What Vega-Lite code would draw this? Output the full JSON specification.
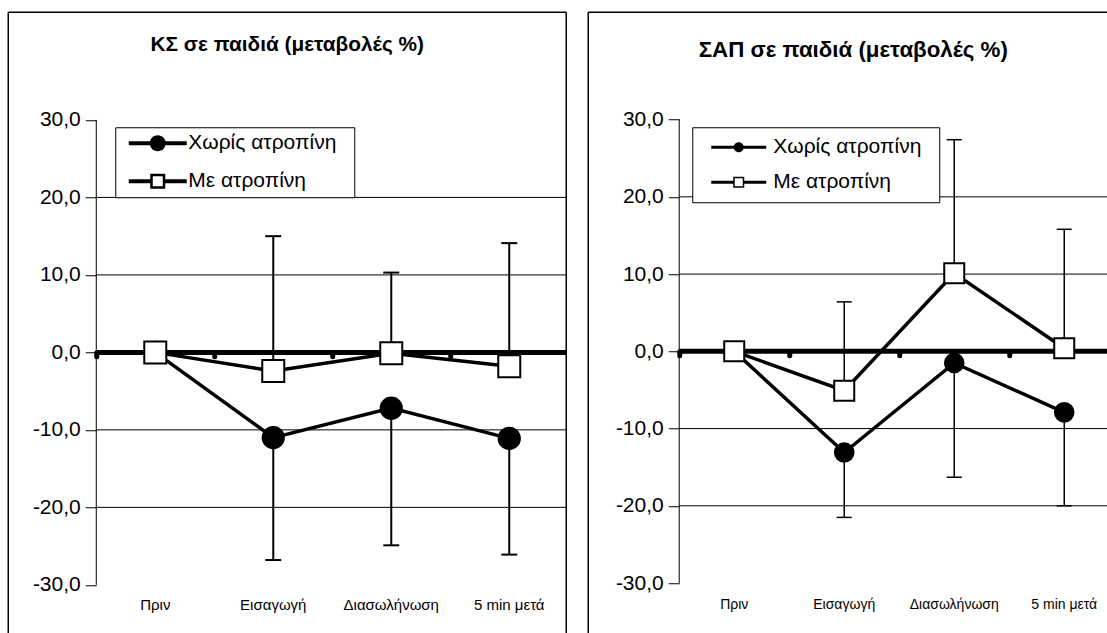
{
  "$schema": "https://vega.github.io/schema/vega-lite/v6.json",
  "background": "white",
  "padding": {"left": 7.25, "top": 11.25, "right": 0, "bottom": 0},
  "bounds": "flush",
  "spacing": 22,
  "config": {"view": {"stroke": null}, "font": "Liberation Sans"},
  "datasets": {
    "ks": [
      {"cat": "Πριν", "idx": 1, "series": "Χωρίς ατροπίνη", "value": 0, "err": null},
      {"cat": "Εισαγωγή", "idx": 2, "series": "Χωρίς ατροπίνη", "value": -11.0, "err": -26.8},
      {"cat": "Διασωλήνωση", "idx": 3, "series": "Χωρίς ατροπίνη", "value": -7.2, "err": -24.9},
      {"cat": "5 min μετά", "idx": 4, "series": "Χωρίς ατροπίνη", "value": -11.1, "err": -26.1},
      {"cat": "Πριν", "idx": 1, "series": "Με ατροπίνη", "value": 0, "err": null},
      {"cat": "Εισαγωγή", "idx": 2, "series": "Με ατροπίνη", "value": -2.4, "err": 15.0},
      {"cat": "Διασωλήνωση", "idx": 3, "series": "Με ατροπίνη", "value": -0.1, "err": 10.3},
      {"cat": "5 min μετά", "idx": 4, "series": "Με ατροπίνη", "value": -1.8, "err": 14.1}
    ],
    "sap": [
      {"cat": "Πριν", "idx": 1, "series": "Χωρίς ατροπίνη", "value": 0, "err": null},
      {"cat": "Εισαγωγή", "idx": 2, "series": "Χωρίς ατροπίνη", "value": -13.1, "err": -21.5},
      {"cat": "Διασωλήνωση", "idx": 3, "series": "Χωρίς ατροπίνη", "value": -1.5, "err": -16.3},
      {"cat": "5 min μετά", "idx": 4, "series": "Χωρίς ατροπίνη", "value": -7.9, "err": -20.0},
      {"cat": "Πριν", "idx": 1, "series": "Με ατροπίνη", "value": 0, "err": null},
      {"cat": "Εισαγωγή", "idx": 2, "series": "Με ατροπίνη", "value": -5.1, "err": 6.4},
      {"cat": "Διασωλήνωση", "idx": 3, "series": "Με ατροπίνη", "value": 10.1, "err": 27.4},
      {"cat": "5 min μετά", "idx": 4, "series": "Με ατροπίνη", "value": 0.4, "err": 15.8}
    ],
    "grid": [{"g": -20}, {"g": -10}, {"g": 10}, {"g": 20}],
    "one": [{}]
  },
  "resolve": {
    "scale": {"x": "independent", "y": "independent", "shape": "independent", "fill": "independent"},
    "legend": {"shape": "independent", "fill": "independent"}
  },
  "hconcat": [
    {
      "width": 558,
      "height": 621,
      "title": {"text": "ΚΣ σε παιδιά (μεταβολές %)", "font": "Liberation Sans", "fontSize": 20.8, "fontWeight": "bold", "color": "black", "anchor": "middle", "frame": "group", "offset": -44},
      "layer": [
        {
          "data": {"name": "one"},
          "mark": {"type": "rule", "color": "black", "strokeWidth": 1.5},
          "encoding": {"x": {"datum": -0.246}, "y": {"datum": -36.25}, "y2": {"datum": 43.9}}
        },
        {
          "data": {"name": "one"},
          "mark": {"type": "rule", "color": "black", "strokeWidth": 1.5},
          "encoding": {"x": {"datum": 4.483}, "y": {"datum": -36.25}, "y2": {"datum": 43.9}}
        },
        {
          "data": {"name": "one"},
          "mark": {"type": "rule", "color": "black", "strokeWidth": 1.5},
          "encoding": {"x": {"datum": -0.246}, "x2": {"datum": 4.483}, "y": {"datum": 43.9}}
        },
        {
          "data": {"name": "grid"},
          "mark": {"type": "rule", "color": "black", "strokeWidth": 1},
          "encoding": {"x": {"datum": 0.5}, "x2": {"datum": 4.483}, "y": {"field": "g", "type": "quantitative", "title": null}}
        },
        {
          "data": {"name": "one"},
          "mark": {"type": "rule", "color": "black", "strokeWidth": 1},
          "encoding": {"x": {"datum": 0.5}, "y": {"datum": -30}, "y2": {"datum": 30}}
        },
        {
          "data": {"name": "one"},
          "mark": {"type": "rule", "color": "black", "strokeWidth": 5},
          "encoding": {"x": {"datum": 0.5}, "x2": {"datum": 4.483}, "y": {"datum": 0}}
        },
        {
          "data": {"name": "ks"},
          "transform": [{"filter": "datum.err != null"}],
          "mark": {"type": "rule", "color": "black", "strokeWidth": 2},
          "encoding": {
            "x": {"field": "idx", "type": "quantitative", "title": null},
            "y": {"field": "value", "type": "quantitative", "title": null},
            "y2": {"field": "err"}
          }
        },
        {
          "data": {"name": "ks"},
          "transform": [{"filter": "datum.err != null"}],
          "mark": {"type": "tick", "orient": "horizontal", "color": "black", "size": 16, "thickness": 2, "opacity": 1},
          "encoding": {
            "x": {"field": "idx", "type": "quantitative", "title": null},
            "y": {"field": "err", "type": "quantitative", "title": null}
          }
        },
        {
          "data": {"name": "ks"},
          "transform": [{"filter": "datum.series == 'Χωρίς ατροπίνη'"}],
          "mark": {"type": "text", "font": "Liberation Sans", "fontSize": 15, "color": "black", "baseline": "middle", "align": "center"},
          "encoding": {
            "x": {"field": "idx", "type": "quantitative", "title": null},
            "y": {"datum": -32.65},
            "text": {"field": "cat"}
          }
        },
        {
          "data": {"name": "ks"},
          "mark": {"type": "line", "color": "black", "strokeWidth": 3.5},
          "encoding": {
            "x": {"field": "idx", "type": "quantitative", "title": null,
              "scale": {"domain": [-0.246, 4.483], "nice": false, "zero": false},
              "axis": {"orient": "bottom", "offset": -280.9, "domain": false, "labels": false, "grid": false, "ticks": true, "tickSize": 4, "tickWidth": 5, "tickColor": "black", "tickCap": "round", "values": [0.5, 1.5, 2.5, 3.5], "title": null}},
            "y": {"field": "value", "type": "quantitative", "title": null,
              "scale": {"domain": [-36.25, 43.9], "nice": false, "zero": false},
              "axis": {"orient": "left", "offset": -88, "domain": false, "grid": false, "values": [-30, -20, -10, 0, 10, 20, 30], "tickSize": 11, "tickColor": "black", "tickWidth": 1, "labelPadding": 5, "labelFont": "Liberation Sans", "labelFontSize": 21, "labelColor": "black", "labelExpr": "replace(replace(format(datum.value, '.1f'), '.', ','), '−', '-')", "title": null}},
            "detail": {"field": "series"}
          }
        },
        {
          "data": {"name": "ks"},
          "mark": {"type": "point", "filled": true, "stroke": "black", "strokeWidth": 2, "opacity": 1},
          "encoding": {
            "x": {"field": "idx", "type": "quantitative", "title": null},
            "y": {"field": "value", "type": "quantitative", "title": null},
            "shape": {"condition": {"test": "datum.series == 'Χωρίς ατροπίνη'", "value": "circle"}, "value": "square"},
            "fill": {"condition": {"test": "datum.series == 'Χωρίς ατροπίνη'", "value": "black"}, "value": "white"},
            "size": {"condition": {"test": "datum.series == 'Χωρίς ατροπίνη'", "value": 452}, "value": 484}
          }
        },
        {
          "data": {"name": "ks"},
          "transform": [{"filter": "false"}],
          "mark": {"type": "point", "filled": true, "opacity": 1},
          "encoding": {
            "x": {"field": "idx", "type": "quantitative", "title": null},
            "y": {"field": "value", "type": "quantitative", "title": null},
            "shape": {"field": "series", "type": "nominal",
              "scale": {"domain": ["Χωρίς ατροπίνη", "Με ατροπίνη"], "range": [
                "M-1,-0.069L1,-0.069L1,0.069L-1,0.069ZM0.276,0C0.276,0.1524,0.1524,0.276,0,0.276C-0.1524,0.276,-0.276,0.1524,-0.276,0C-0.276,-0.1524,-0.1524,-0.276,0,-0.276C0.1524,-0.276,0.276,-0.1524,0.276,0Z",
                "M-1,-0.069L-0.259,-0.069L-0.259,0.069L-1,0.069ZM0.259,-0.069L1,-0.069L1,0.069L0.259,0.069ZM-0.259,-0.259L0.259,-0.259L0.259,0.259L-0.259,0.259ZM-0.172,-0.172L-0.172,0.172L0.172,0.172L0.172,-0.172Z"]},
              "legend": {"orient": "none", "legendX": 107, "legendY": 115, "title": null, "padding": 6, "strokeColor": "black", "fillColor": "white",
                "labelFont": "Liberation Sans", "labelFontSize": 21, "labelColor": "black", "labelExpr": "datum.label + '\u00a0\u00a0\u200b'",
                "symbolSize": 3364, "symbolStrokeWidth": 3.5, "symbolStrokeColor": "transparent", "symbolOffset": 5.5, "labelOffset": -0.5, "clipHeight": 20, "rowPadding": 17,
                "encode": {"symbols": {"stroke": {"value": "transparent"}, "opacity": {"value": 1}}}}},
            "fill": {"field": "series", "type": "nominal",
              "scale": {"domain": ["Χωρίς ατροπίνη", "Με ατροπίνη"], "range": ["black", "black"]},
              "legend": {"orient": "none", "legendX": 107, "legendY": 115, "title": null, "padding": 6, "strokeColor": "black", "fillColor": "white",
                "labelFont": "Liberation Sans", "labelFontSize": 21, "labelColor": "black", "labelExpr": "datum.label + '\u00a0\u00a0\u200b'",
                "symbolSize": 3364, "symbolStrokeWidth": 3.5, "symbolStrokeColor": "transparent", "symbolOffset": 5.5, "labelOffset": -0.5, "clipHeight": 20, "rowPadding": 17,
                "encode": {"symbols": {"stroke": {"value": "transparent"}, "opacity": {"value": 1}}}}}
          }
        }
      ]
    },
    {
      "width": 519,
      "height": 621,
      "title": {"text": "ΣΑΠ σε παιδιά (μεταβολές %)", "font": "Liberation Sans", "fontSize": 22.3, "fontWeight": "bold", "color": "black", "anchor": "middle", "frame": "group", "dx": 5.5, "offset": -50},
      "layer": [
        {
          "data": {"name": "one"},
          "mark": {"type": "rule", "color": "black", "strokeWidth": 1.5},
          "encoding": {"x": {"datum": -0.327}, "y": {"datum": -36.5}, "y2": {"datum": 43.9}}
        },
        {
          "data": {"name": "one"},
          "mark": {"type": "rule", "color": "black", "strokeWidth": 1.5},
          "encoding": {"x": {"datum": -0.327}, "x2": {"datum": 4.391}, "y": {"datum": 43.9}}
        },
        {
          "data": {"name": "grid"},
          "mark": {"type": "rule", "color": "black", "strokeWidth": 1},
          "encoding": {"x": {"datum": 0.5}, "x2": {"datum": 4.391}, "y": {"field": "g", "type": "quantitative", "title": null}}
        },
        {
          "data": {"name": "one"},
          "mark": {"type": "rule", "color": "black", "strokeWidth": 1},
          "encoding": {"x": {"datum": 0.5}, "y": {"datum": -30}, "y2": {"datum": 30}}
        },
        {
          "data": {"name": "one"},
          "mark": {"type": "rule", "color": "black", "strokeWidth": 5},
          "encoding": {"x": {"datum": 0.5}, "x2": {"datum": 4.391}, "y": {"datum": 0}}
        },
        {
          "data": {"name": "sap"},
          "transform": [{"filter": "datum.err != null"}],
          "mark": {"type": "rule", "color": "black", "strokeWidth": 1.5},
          "encoding": {
            "x": {"field": "idx", "type": "quantitative", "title": null},
            "y": {"field": "value", "type": "quantitative", "title": null},
            "y2": {"field": "err"}
          }
        },
        {
          "data": {"name": "sap"},
          "transform": [{"filter": "datum.err != null"}],
          "mark": {"type": "tick", "orient": "horizontal", "color": "black", "size": 15, "thickness": 1.5, "opacity": 1},
          "encoding": {
            "x": {"field": "idx", "type": "quantitative", "title": null},
            "y": {"field": "err", "type": "quantitative", "title": null}
          }
        },
        {
          "data": {"name": "sap"},
          "transform": [{"filter": "datum.series == 'Χωρίς ατροπίνη'"}],
          "mark": {"type": "text", "font": "Liberation Sans", "fontSize": 14, "color": "black", "baseline": "middle", "align": "center"},
          "encoding": {
            "x": {"field": "idx", "type": "quantitative", "title": null},
            "y": {"datum": -32.9},
            "text": {"field": "cat"}
          }
        },
        {
          "data": {"name": "sap"},
          "mark": {"type": "line", "color": "black", "strokeWidth": 3.5},
          "encoding": {
            "x": {"field": "idx", "type": "quantitative", "title": null,
              "scale": {"domain": [-0.327, 4.391], "nice": false, "zero": false},
              "axis": {"orient": "bottom", "offset": -281.9, "domain": false, "labels": false, "grid": false, "ticks": true, "tickSize": 4, "tickWidth": 5, "tickColor": "black", "tickCap": "round", "values": [0.5, 1.5, 2.5, 3.5], "title": null}},
            "y": {"field": "value", "type": "quantitative", "title": null,
              "scale": {"domain": [-36.5, 43.9], "nice": false, "zero": false},
              "axis": {"orient": "left", "offset": -91, "domain": false, "grid": false, "values": [-30, -20, -10, 0, 10, 20, 30], "tickSize": 11, "tickColor": "black", "tickWidth": 1, "labelPadding": 5, "labelFont": "Liberation Sans", "labelFontSize": 21, "labelColor": "black", "labelExpr": "replace(replace(format(datum.value, '.1f'), '.', ','), '−', '-')", "title": null}},
            "detail": {"field": "series"}
          }
        },
        {
          "data": {"name": "sap"},
          "mark": {"type": "point", "filled": true, "stroke": "black", "strokeWidth": 2, "opacity": 1},
          "encoding": {
            "x": {"field": "idx", "type": "quantitative", "title": null},
            "y": {"field": "value", "type": "quantitative", "title": null},
            "shape": {"condition": {"test": "datum.series == 'Χωρίς ατροπίνη'", "value": "circle"}, "value": "square"},
            "fill": {"condition": {"test": "datum.series == 'Χωρίς ατροπίνη'", "value": "black"}, "value": "white"},
            "size": {"condition": {"test": "datum.series == 'Χωρίς ατροπίνη'", "value": 346}, "value": 400}
          }
        },
        {
          "data": {"name": "sap"},
          "transform": [{"filter": "false"}],
          "mark": {"type": "point", "filled": true, "opacity": 1},
          "encoding": {
            "x": {"field": "idx", "type": "quantitative", "title": null},
            "y": {"field": "value", "type": "quantitative", "title": null},
            "shape": {"field": "series", "type": "nominal",
              "scale": {"domain": ["Χωρίς ατροπίνη", "Με ατροπίνη"], "range": [
                "M-1,-0.055L1,-0.055L1,0.055L-1,0.055ZM0.182,0C0.182,0.1005,0.1005,0.182,0,0.182C-0.1005,0.182,-0.182,0.1005,-0.182,0C-0.182,-0.1005,-0.1005,-0.182,0,-0.182C0.1005,-0.182,0.182,-0.1005,0.182,0Z",
                "M-1,-0.055L-0.2,-0.055L-0.2,0.055L-1,0.055ZM0.2,-0.055L1,-0.055L1,0.055L0.2,0.055ZM-0.2,-0.2L0.2,-0.2L0.2,0.2L-0.2,0.2ZM-0.145,-0.145L-0.145,0.145L0.145,0.145L0.145,-0.145Z"]},
              "legend": {"orient": "none", "legendX": 104, "legendY": 115, "title": null, "padding": 6, "strokeColor": "black", "fillColor": "white",
                "labelFont": "Liberation Sans", "labelFontSize": 21, "labelColor": "black", "labelExpr": "datum.label + '\u00a0\u00a0\u200b'",
                "symbolSize": 3025, "symbolStrokeWidth": 3, "symbolStrokeColor": "transparent", "symbolOffset": 11.5, "labelOffset": 5.5, "clipHeight": 28, "rowPadding": 7,
                "encode": {"symbols": {"stroke": {"value": "transparent"}, "opacity": {"value": 1}}}}},
            "fill": {"field": "series", "type": "nominal",
              "scale": {"domain": ["Χωρίς ατροπίνη", "Με ατροπίνη"], "range": ["black", "black"]},
              "legend": {"orient": "none", "legendX": 104, "legendY": 115, "title": null, "padding": 6, "strokeColor": "black", "fillColor": "white",
                "labelFont": "Liberation Sans", "labelFontSize": 21, "labelColor": "black", "labelExpr": "datum.label + '\u00a0\u00a0\u200b'",
                "symbolSize": 3025, "symbolStrokeWidth": 3, "symbolStrokeColor": "transparent", "symbolOffset": 11.5, "labelOffset": 5.5, "clipHeight": 28, "rowPadding": 7,
                "encode": {"symbols": {"stroke": {"value": "transparent"}, "opacity": {"value": 1}}}}}
          }
        }
      ]
    }
  ]
}
